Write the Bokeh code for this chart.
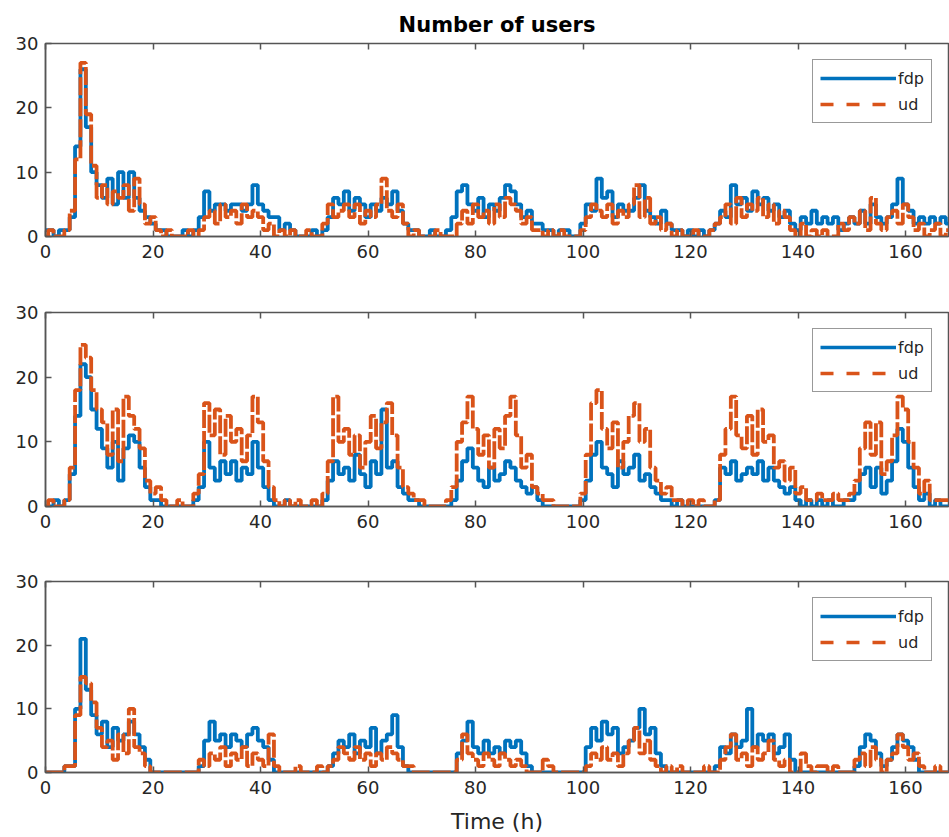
from bokeh.plotting import figure
from bokeh.models import LinearAxis, Legend, LegendItem, Range1d, FixedTicker
from bokeh.layouts import column
from bokeh.embed import file_html
from bokeh.resources import INLINE

title_text = "Number of users"
x_label = "Time (h)"
series_names = ["fdp", "ud"]
x_ticks = [0, 20, 40, 60, 80, 100, 120, 140, 160]
y_ticks = [0, 10, 20, 30]

# hourly values, t = 0 .. 168
p1_fdp = [1,1,0,1,1,3,14,26,17,10,8,6,
          9,5,10,6,10,6,4,3,2,1,1,0,
          0,0,1,0,1,3,7,4,5,5,4,5,
          5,4,5,8,5,4,3,3,1,2,1,0,
          0,0,1,0,1,3,6,5,7,4,6,5,
          3,5,4,6,5,7,4,2,1,1,0,0,
          1,0,0,1,3,7,8,5,4,6,3,5,
          4,6,8,7,5,3,4,2,2,1,1,0,
          1,1,0,0,2,5,4,9,6,7,3,5,
          4,4,6,8,4,3,2,4,2,1,1,0,
          1,0,1,0,1,2,4,3,8,5,6,4,
          7,5,6,4,5,3,4,2,1,3,2,4,
          2,3,2,3,1,2,3,2,4,2,5,3,
          2,3,5,9,5,4,2,3,2,3,2,3,
          2]
p1_ud = [0,1,0,0,1,4,12,27,19,11,6,8,
         5,7,6,8,4,9,5,2,3,1,0,1,
         0,0,0,1,0,1,3,4,2,5,3,4,
         2,5,3,4,3,1,2,0,1,0,1,0,
         0,1,0,0,2,5,3,4,5,3,5,2,
         4,3,5,9,4,3,5,2,0,1,0,0,
         0,1,0,0,0,2,4,2,5,3,4,2,
         5,3,6,5,4,2,3,1,1,0,1,0,
         1,0,0,0,1,3,5,4,3,5,2,4,
         3,5,8,3,6,2,3,1,2,0,1,0,
         0,1,0,0,1,2,3,5,2,6,3,5,
         4,6,3,5,2,4,3,1,0,2,0,1,
         0,1,0,0,2,1,3,2,4,1,6,2,
         1,3,4,2,5,3,1,2,0,1,2,0,
         1]
p2_fdp = [0,0,1,0,1,5,14,22,20,15,12,9,
          6,10,4,9,11,10,6,3,1,1,0,0,
          0,0,0,0,1,3,10,6,4,7,5,7,
          4,6,5,10,6,3,1,0,0,1,0,0,
          0,0,0,0,1,4,7,5,6,4,8,5,
          3,7,5,15,6,7,3,2,1,1,0,0,
          0,0,0,0,1,4,7,9,6,4,3,6,
          4,5,7,6,4,3,2,3,1,0,0,0,
          0,0,0,0,1,4,8,10,6,5,3,7,
          5,6,8,4,5,3,2,1,1,0,1,0,
          0,0,0,0,0,1,6,5,7,4,5,6,
          5,7,4,6,4,3,2,3,1,0,1,0,
          1,0,1,0,0,1,1,2,5,6,3,6,
          2,4,7,12,10,6,3,1,2,0,1,0,
          0]
p2_ud = [0,1,0,0,1,6,18,25,23,18,15,13,
         8,15,7,17,14,12,9,4,2,3,1,0,
         0,1,0,0,2,5,16,11,15,8,14,10,
         12,7,11,17,13,7,3,1,0,1,0,1,
         0,0,1,0,2,7,17,10,12,8,11,6,
         10,14,9,13,16,11,6,3,2,1,1,0,
         0,0,0,1,3,10,13,17,12,8,11,6,
         12,9,14,17,11,6,8,3,2,1,1,0,
         0,0,0,0,2,8,16,18,12,9,13,6,
         10,14,16,10,12,6,4,2,3,1,1,0,
         1,0,1,0,0,1,8,12,17,11,9,14,
         8,15,10,11,6,7,4,6,2,3,1,1,
         2,1,1,2,1,1,2,4,9,13,8,13,
         5,7,11,17,15,10,6,2,4,1,1,1,
         1]
p3_fdp = [0,0,0,0,1,1,10,21,13,9,6,8,
          4,7,5,6,8,6,4,2,0,0,0,0,
          0,0,0,0,0,1,5,8,5,6,4,6,
          5,4,6,7,5,4,2,0,0,0,0,0,
          0,0,0,0,0,1,3,5,4,6,3,5,
          4,7,3,5,6,9,4,1,0,0,0,0,
          0,0,0,0,0,3,5,8,4,3,5,3,
          4,3,5,4,5,3,1,0,0,0,0,0,
          0,0,0,0,0,4,7,5,8,6,7,3,
          4,5,7,10,6,7,3,1,0,0,0,0,
          0,0,0,0,0,1,4,3,6,4,5,10,
          4,6,5,6,3,4,6,2,0,0,0,0,
          0,0,0,0,0,0,0,1,4,6,5,3,
          1,2,4,6,5,4,2,0,0,0,0,0,
          0]
p3_ud = [0,0,0,0,1,1,9,15,14,11,7,4,
         5,2,6,3,10,4,3,1,0,0,0,0,
         0,0,0,0,0,2,1,3,2,4,1,3,
         2,4,1,3,2,1,6,1,0,0,0,1,
         0,0,0,1,0,1,2,4,3,2,4,2,
         3,1,3,2,4,3,2,1,1,0,0,0,
         0,0,0,0,0,2,6,3,2,1,3,2,
         1,3,2,1,2,1,0,0,0,2,1,0,
         0,0,0,0,0,1,3,2,4,2,3,1,
         3,5,7,3,5,2,1,0,1,0,1,0,
         0,0,0,1,0,0,2,4,6,2,3,1,
         4,2,3,5,2,1,2,0,0,3,1,0,
         1,1,0,1,0,0,0,2,3,1,4,2,
         0,2,3,6,4,2,3,1,0,0,1,0,
         0]

BLUE = "#0072BD"
ORANGE = "#D95319"
AXC = "#555555"
TXC = "#262626"
FONT = "DejaVu Sans"
NAN = float("nan")


def make_panel(fdp, ud, top, frame_h, bottom, title=None, xlabel=None):
    p = figure(width=949, height=top + frame_h + bottom,
               x_range=Range1d(0, 168), y_range=Range1d(0, 30),
               output_backend="svg", toolbar_location=None,
               min_border_left=45, min_border_right=1,
               min_border_top=top, min_border_bottom=bottom)
    p.xgrid.visible = False
    p.ygrid.visible = False
    p.background_fill_color = "white"
    p.border_fill_color = "white"
    p.outline_line_color = AXC
    p.outline_line_width = 1.5
    p.outline_line_alpha = 1.0

    xa = p.xaxis[0]
    ya = p.yaxis[0]
    for ax in (xa, ya):
        ax.axis_line_color = AXC
        ax.axis_line_width = 1.5
        ax.major_tick_line_color = AXC
        ax.major_tick_line_width = 1.5
        ax.major_tick_in = 6
        ax.major_tick_out = 0
        ax.minor_tick_line_color = None
        ax.major_label_text_font = FONT
        ax.major_label_text_font_size = "18px"
        ax.major_label_text_color = TXC
    xa.ticker = FixedTicker(ticks=x_ticks)
    ya.ticker = FixedTicker(ticks=y_ticks)
    xa.major_label_standoff = 8
    ya.major_label_standoff = 7

    if xlabel:
        xa.axis_label = xlabel
        xa.axis_label_text_font = FONT
        xa.axis_label_text_font_size = "22px"
        xa.axis_label_text_font_style = "normal"
        xa.axis_label_text_color = TXC
        xa.axis_label_standoff = 12

    top_ax = LinearAxis(ticker=FixedTicker(ticks=x_ticks))
    top_ax.axis_line_color = None
    top_ax.major_tick_line_color = AXC
    top_ax.major_tick_line_width = 1.5
    top_ax.major_tick_in = 6
    top_ax.major_tick_out = 0
    top_ax.minor_tick_line_color = None
    top_ax.major_label_overrides = {t: "" for t in x_ticks}
    top_ax.major_label_text_font_size = "1px"
    top_ax.major_label_standoff = 0
    p.add_layout(top_ax, "above")

    if title:
        p.title.text = title
        p.title.align = "center"
        p.title.text_font = FONT
        p.title.text_font_size = "21px"
        p.title.text_font_style = "bold"
        p.title.text_color = "#000000"
        p.title.standoff = 14

    t_f = list(range(len(fdp)))
    t_u = list(range(len(ud)))
    p.step(t_f, fdp, mode="center", line_color=BLUE, line_width=3.8)
    p.step(t_u, ud, mode="center", line_color=ORANGE, line_width=3.8, line_dash="18 3")

    # legend-only renderers (nothing visible is drawn in the plot area)
    lb = p.line([NAN, NAN], [NAN, NAN], line_color=BLUE, line_width=3.5)
    lo = p.line([NAN, NAN], [NAN, NAN], line_color=ORANGE, line_width=3.5, line_dash="13 13")
    leg = Legend(items=[LegendItem(label=series_names[0], renderers=[lb]),
                        LegendItem(label=series_names[1], renderers=[lo])],
                 location=(767, frame_h - 80))
    leg.border_line_color = "#333333"
    leg.border_line_width = 1.5
    leg.background_fill_color = "white"
    leg.background_fill_alpha = 1.0
    leg.label_text_font = FONT
    leg.label_text_font_size = "16px"
    leg.label_text_color = TXC
    leg.glyph_width = 76
    leg.glyph_height = 22
    leg.label_height = 22
    leg.label_standoff = 2
    leg.spacing = 4
    leg.padding = 7
    leg.margin = 0
    p.add_layout(leg)
    return p


f1 = make_panel(p1_fdp, p1_ud, 43, 193, 34, title=title_text)
f2 = make_panel(p2_fdp, p2_ud, 42, 194, 34)
f3 = make_panel(p3_fdp, p3_ud, 41, 191, 65, xlabel=x_label)

layout = column(f1, f2, f3, spacing=0)
open("out.html", "w").write(file_html(layout, INLINE))
